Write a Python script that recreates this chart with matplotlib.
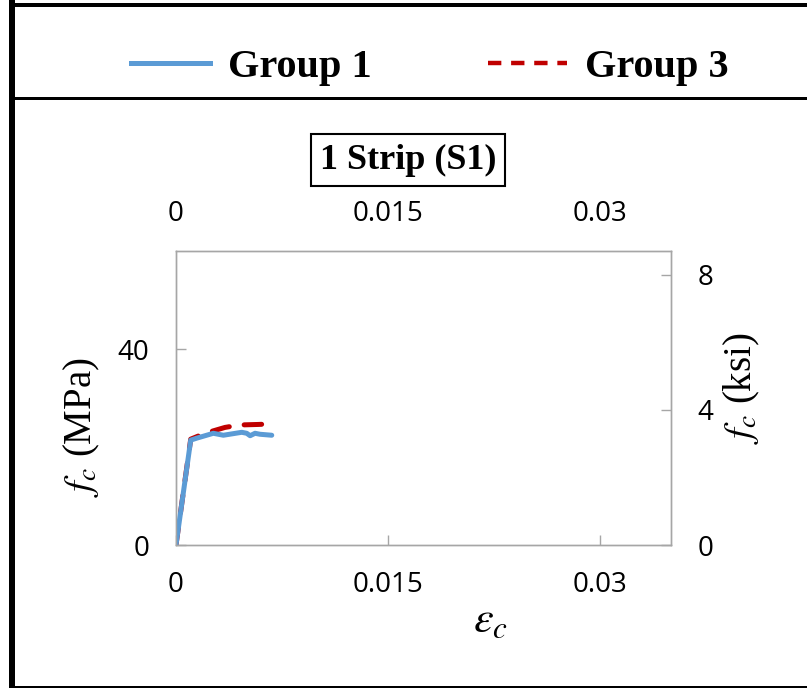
import numpy as np
import matplotlib
matplotlib.use("Agg")
import matplotlib.pyplot as plt
from matplotlib.lines import Line2D
from matplotlib.patches import Rectangle

plt.rcParams['mathtext.fontset'] = 'stix'

# -------------------------------
# Data
# -------------------------------
strain_g1 = [0, 0.00104, 0.00146, 0.00264, 0.00335, 0.00465, 0.0050, 0.00524, 0.00559, 0.00594, 0.00677]
stress_g1 = [0, 21.4, 21.8, 22.8, 22.4, 23.0, 22.8, 22.3, 22.8, 22.6, 22.4]

strain_g3 = [0, 0.00104, 0.00205, 0.00347, 0.00453, 0.0058, 0.00665]
stress_g3 = [0, 21.6, 22.8, 24.0, 24.5, 24.6, 24.7]

x_ticks = [0, 0.015, 0.03]
x_tick_labels = ["0", "0.015", "0.03"]
y_ticks_mpa = [0, 40]
y_ticks_ksi = [0, 4, 8]
MPA_PER_KSI = 6.895

blue = "#5B9BD5"
red = "#C00000"
grey = "#A6A6A6"
tick_font = "Open Sans"
serif = "Liberation Serif"

W, H = 807, 688
fig = plt.figure(figsize=(W / 100, H / 100), dpi=100)

ax = fig.add_axes([176 / W, 1 - 545 / H, (671 - 176) / W, (545 - 251) / H])

ax.plot(strain_g1, stress_g1, color=blue, lw=3.6, solid_capstyle='round',
        solid_joinstyle='round', zorder=3)
ax.plot(strain_g3, stress_g3, color=red, lw=3.6, dashes=(3.5, 3),
        dash_capstyle='round', zorder=2)

ax.set_xlim(0, 0.035)
ax.set_ylim(0, 60)
ax.set_xticks(x_ticks)
ax.set_xticklabels(x_tick_labels)
ax.set_yticks(y_ticks_mpa)

for s in ax.spines.values():
    s.set_color(grey)
    s.set_linewidth(1.0)

ax.tick_params(axis='both', direction='in', length=7, width=1, color=grey,
               labelsize=20, pad=19)
ax.tick_params(axis='y', pad=19)
for lab in ax.get_xticklabels() + ax.get_yticklabels():
    lab.set_fontfamily(tick_font)

# right axis (ksi)
axr = ax.twinx()
axr.set_ylim(0, 60 / MPA_PER_KSI)
axr.set_yticks(y_ticks_ksi)
axr.tick_params(axis='y', direction='in', length=7, width=1, color=grey,
                labelsize=20, pad=19)
for lab in axr.get_yticklabels():
    lab.set_fontfamily(tick_font)
for s in axr.spines.values():
    s.set_color(grey)
    s.set_linewidth(1.0)

# top axis (strain again)
axt = ax.twiny()
axt.set_xlim(0, 0.035)
axt.set_xticks(x_ticks)
axt.set_xticklabels(x_tick_labels)
axt.tick_params(axis='x', direction='in', length=0, labelsize=20, pad=16.5)
for lab in axt.get_xticklabels():
    lab.set_fontfamily(tick_font)
for s in axt.spines.values():
    s.set_visible(False)

# axis labels
fig.text(82 / W, 1 - 427 / H, r"$f_c$ (MPa)", rotation=90, ha='center', va='center',
         fontsize=28, family=serif)
fig.text(742 / W, 1 - 388 / H, r"$f_c$ (ksi)", rotation=90, ha='center', va='center',
         fontsize=28, family=serif)
fig.text(490 / W, 1 - 620 / H, r"$\varepsilon_c$", ha='center', va='center', fontsize=32)

# boxed title
fig.text(408 / W, 1 - 160 / H, "1 Strip (S1)", ha='center', va='center',
         fontsize=26, fontweight='bold', family=serif,
         bbox=dict(boxstyle='square,pad=0.25', fc='white', ec='black', lw=1.5))

# legend
handles = [Line2D([], [], color=blue, lw=3.6),
           Line2D([], [], color=red, lw=3.2, dashes=(3, 2.2))]
fig.legend(handles, ["Group 1", "Group 3"], loc='center', ncol=2,
           bbox_to_anchor=(430 / W, 1 - 67 / H), frameon=False,
           prop=dict(family=serif, weight='bold', size=29),
           handlelength=1.95, handletextpad=0.45, columnspacing=2.9)

# panel frame
fig.add_artist(Rectangle((9 / W, 0), 6 / W, 1, transform=fig.transFigure,
                         color='black', lw=0))
fig.add_artist(Rectangle((9 / W, 1 - 7 / H), 1, 4 / H, transform=fig.transFigure,
                         color='black', lw=0))
fig.add_artist(Rectangle((9 / W, 1 - 100 / H), 1, 3 / H, transform=fig.transFigure,
                         color='black', lw=0))
fig.add_artist(Rectangle((9 / W, 0), 1, 2 / H, transform=fig.transFigure,
                         color='black', lw=0))

plt.savefig("out.png", dpi=100)
plt.close()
